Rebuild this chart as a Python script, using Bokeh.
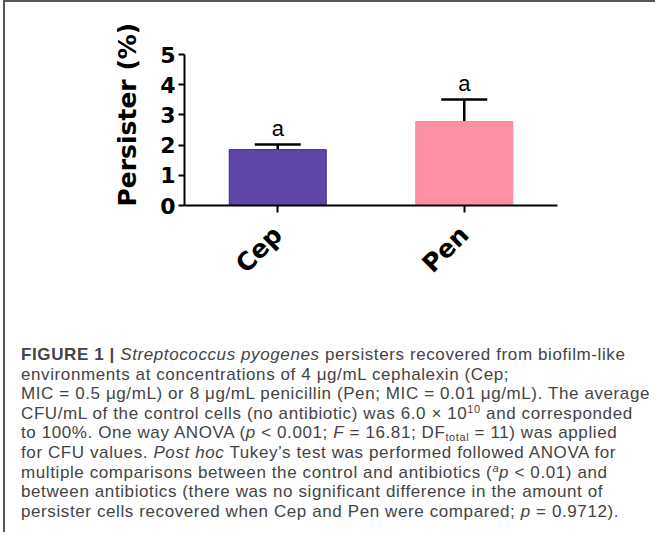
import math
from bokeh.plotting import figure
from bokeh.models import ColumnDataSource, Whisker, TeeHead, LabelSet, Div, FixedTicker, Title
from bokeh.layouts import column
from bokeh.core.properties import value
from bokeh.embed import file_html
from bokeh.resources import INLINE

# ---- data ----
categories = ["Cep", "Pen"]
means = [1.85, 2.78]
errors = [0.17, 0.73]
letters = ["a", "a"]
fill_colors = ["#5F45A6", "#FF8FA3"]
edge_colors = ["#3B2A8C", "#F2889C"]
y_ticks = [0, 1, 2, 3, 4, 5]
y_label = "Persister (%)"

tops = [m + e for m, e in zip(means, errors)]
src = ColumnDataSource(dict(cat=categories, mean=means, top=tops, letter=letters,
                            fill=fill_colors, edge=edge_colors))

p = figure(x_range=categories, y_range=(0, 5), width=640, height=330,
           output_backend="svg", toolbar_location=None,
           min_border_left=179, min_border_right=88, min_border_top=52, min_border_bottom=127)
p.outline_line_color = None
p.xgrid.grid_line_color = None
p.ygrid.grid_line_color = None
p.background_fill_color = "white"
p.border_fill_color = "white"

p.vbar(x="cat", top="mean", bottom=0, width=0.52, source=src,
       fill_color="fill", line_color="edge", line_width=1)

w = Whisker(source=src, base="cat", upper="top", lower="mean",
            line_color="black", line_width=2.5,
            upper_head=TeeHead(size=46, line_color="black", line_width=2.5),
            lower_head=None)
p.add_layout(w)

letters_set = LabelSet(x="cat", y="top", text="letter", source=src, y_offset=8,
                       text_align="center", text_baseline="alphabetic",
                       text_font=value("Liberation Sans"), text_font_size="22px",
                       text_color="black")
p.add_layout(letters_set)

# y axis
p.yaxis.ticker = FixedTicker(ticks=y_ticks)
p.yaxis.minor_tick_line_color = None
p.yaxis.axis_line_width = 2
p.yaxis.major_tick_line_width = 2
p.yaxis.major_tick_out = 6
p.yaxis.major_tick_in = 0
p.yaxis.major_label_standoff = 3
p.yaxis.major_label_text_font = "DejaVu Sans"
p.yaxis.major_label_text_font_style = "bold"
p.yaxis.major_label_text_font_size = "22px"
p.yaxis.major_label_text_color = "black"

# x axis
p.xaxis.axis_line_width = 2
p.xaxis.major_tick_line_width = 2
p.xaxis.major_tick_out = 7
p.xaxis.major_tick_in = 0
p.xaxis.major_label_orientation = math.pi / 4
p.xaxis.major_label_standoff = 18
p.xaxis.major_label_text_font = "DejaVu Sans"
p.xaxis.major_label_text_font_style = "bold"
p.xaxis.major_label_text_font_size = "25px"
p.xaxis.major_label_text_color = "black"

ttl = Title(text=y_label, align="left", offset=-1, standoff=32,
            text_font="DejaVu Sans", text_font_style="bold", text_font_size="25px",
            text_color="black")
p.add_layout(ttl, "left")

sup = 'style="font-size:11px; line-height:0; vertical-align:6px;"'
sub = 'style="font-size:11px; line-height:0; vertical-align:-3px;"'
caption = (
    '<div style="padding:8px 0 0 11px; font-family:\'Liberation Sans\', Arial, sans-serif; '
    'font-size:17px; letter-spacing:0.6px; line-height:19.6px; color:#444; white-space:nowrap;">'
    '<b>FIGURE 1 |</b> <i>Streptococcus pyogenes</i> persisters recovered from biofilm-like<br>'
    'environments at concentrations of 4 μg/mL cephalexin (Cep;<br>'
    'MIC = 0.5 μg/mL) or 8 μg/mL penicillin (Pen; MIC = 0.01 μg/mL). The average<br>'
    f'CFU/mL of the control cells (no antibiotic) was 6.0 × 10<span {sup}>10</span> and corresponded<br>'
    f'to 100%. One way ANOVA (<i>p</i> &lt; 0.001; <i>F</i> = 16.81; DF<span {sub}>total</span> = 11) was applied<br>'
    'for CFU values. <i>Post hoc</i> Tukey’s test was performed followed ANOVA for<br>'
    f'multiple comparisons between the control and antibiotics (<span {sup}><i>a</i></span><i>p</i> &lt; 0.01) and<br>'
    'between antibiotics (there was no significant difference in the amount of<br>'
    'persister cells recovered when Cep and Pen were compared; <i>p</i> = 0.9712).'
    '</div>'
)
div = Div(text=caption, width=640, height=190)

layout = column(p, div, margin=(0, 0, 0, 3),
                styles={"border-top": "2px solid #555", "border-left": "2px solid #555",
                        "background-color": "white"})

open("out.html", "w").write(file_html(layout, INLINE))
